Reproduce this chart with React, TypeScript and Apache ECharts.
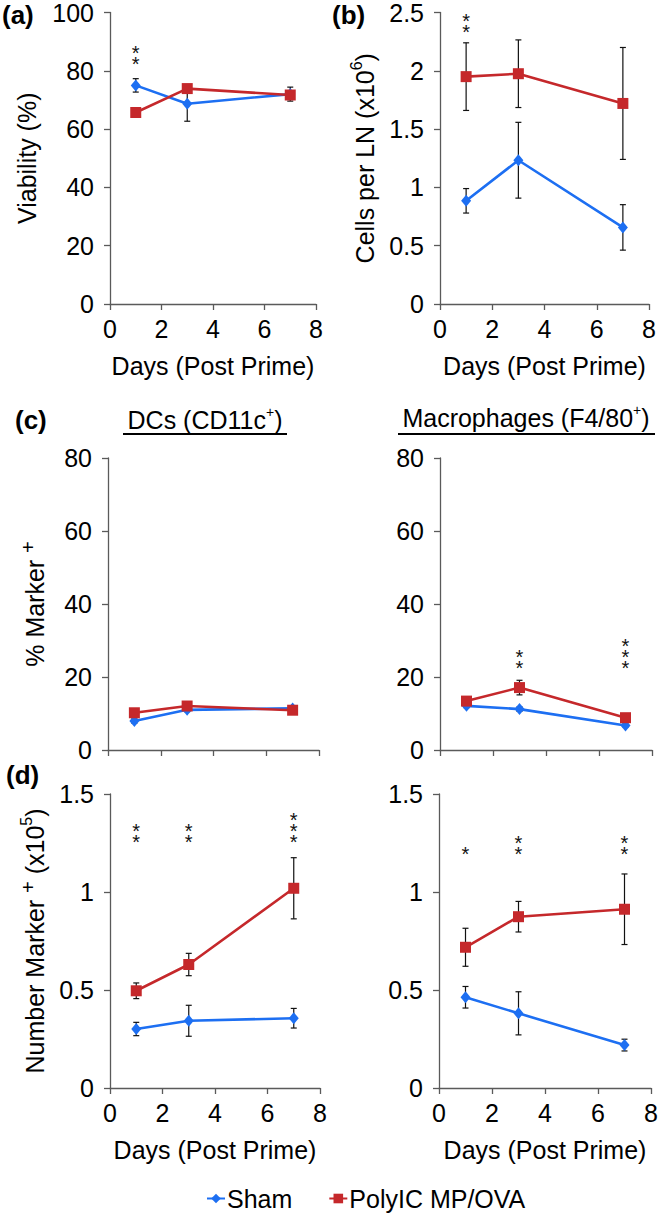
import React, { useEffect, useRef } from "react";
import * as echarts from "echarts";

const FONT = "'Liberation Sans', Arial, Helvetica, sans-serif";
const BLUE = "#1d6ff2";
const RED = "#c5282b";
const AXIS = "#5a5a5a";

// ---- Data ----
const days = [1, 3, 7];
const xTicks = [0, 2, 4, 6, 8];

const viabilitySham = [75, 68.7, 72];
const viabilityShamErr = [2.3, 6, 2.4];
const viabilityPoly = [65.7, 73.9, 71.7];
const viabilityPolyErr = [1, 1.2, 1];

const cellsSham = [0.885, 1.233, 0.657];
const cellsShamErr = [0.105, 0.325, 0.195];
const cellsPoly = [1.95, 1.975, 1.72];
const cellsPolyErr = [0.29, 0.29, 0.48];

const dcPctSham = [7.95, 11, 11.4];
const dcPctShamErr = [0.6, 0.5, 0.5];
const dcPctPoly = [10.2, 12.05, 10.9];
const dcPctPolyErr = [0.8, 0.6, 0.6];

const macPctSham = [12.1, 11.2, 6.7];
const macPctShamErr = [0.5, 0.6, 0.4];
const macPctPoly = [13.4, 17.1, 8.85];
const macPctPolyErr = [0.6, 2.0, 0.6];

const dcNumSham = [0.301, 0.343, 0.356];
const dcNumShamErr = [0.034, 0.079, 0.05];
const dcNumPoly = [0.496, 0.63, 1.019];
const dcNumPolyErr = [0.04, 0.057, 0.156];

const macNumSham = [0.463, 0.381, 0.219];
const macNumShamErr = [0.055, 0.11, 0.03];
const macNumPoly = [0.718, 0.874, 0.912];
const macNumPolyErr = [0.097, 0.078, 0.18];

// significance stars: [day, value at stack centre, number of stars]
const starsA = [[1, 85.6, 2]];
const starsB = [[1, 2.41, 2]];
const starsC1: number[][] = [];
const starsC2 = [[3, 25.1, 2], [7, 26.6, 3]];
const starsD1 = [[1, 1.306, 2], [3, 1.306, 2], [7, 1.333, 3]];
const starsD2 = [[1, 1.214, 1], [3, 1.243, 2], [7, 1.243, 2]];

const legendNames = ["Sham", "PolyIC MP/OVA"];
const xName = "Days (Post Prime)";

type Panel = {
  grid: { left: number; top: number; width: number; height: number };
  yMax: number;
  yInterval: number;
  yName?: string;
  yNameGap?: number;
  showXLabels: boolean;
  sham: number[];
  shamErr: number[];
  poly: number[];
  polyErr: number[];
  stars: number[][];
};

const panels: Panel[] = [
  {
    grid: { left: 110, top: 12, width: 206, height: 292 },
    yMax: 100, yInterval: 20,
    yName: "{n|Viability (%)}", yNameGap: 66,
    showXLabels: true,
    sham: viabilitySham, shamErr: viabilityShamErr,
    poly: viabilityPoly, polyErr: viabilityPolyErr,
    stars: starsA,
  },
  {
    grid: { left: 440, top: 12, width: 209, height: 292 },
    yMax: 2.5, yInterval: 0.5,
    yName: "{n|Cells per LN (x10}{p|6}{n|)}", yNameGap: 58,
    showXLabels: true,
    sham: cellsSham, shamErr: cellsShamErr,
    poly: cellsPoly, polyErr: cellsPolyErr,
    stars: starsB,
  },
  {
    grid: { left: 108, top: 458, width: 211, height: 292 },
    yMax: 80, yInterval: 20,
    yName: "{n|% Marker }{s|+}", yNameGap: 56,
    showXLabels: false,
    sham: dcPctSham, shamErr: dcPctShamErr,
    poly: dcPctPoly, polyErr: dcPctPolyErr,
    stars: starsC1,
  },
  {
    grid: { left: 440, top: 458, width: 212, height: 292 },
    yMax: 80, yInterval: 20,
    showXLabels: false,
    sham: macPctSham, shamErr: macPctShamErr,
    poly: macPctPoly, polyErr: macPctPolyErr,
    stars: starsC2,
  },
  {
    grid: { left: 110, top: 794, width: 210, height: 294 },
    yMax: 1.5, yInterval: 0.5,
    yName: "{n|Number Marker }{s|+}{n| (x10}{p|5}{n|)}", yNameGap: 58,
    showXLabels: true,
    sham: dcNumSham, shamErr: dcNumShamErr,
    poly: dcNumPoly, polyErr: dcNumPolyErr,
    stars: starsD1,
  },
  {
    grid: { left: 439, top: 794, width: 212, height: 294 },
    yMax: 1.5, yInterval: 0.5,
    showXLabels: true,
    sham: macNumSham, shamErr: macNumShamErr,
    poly: macNumPoly, polyErr: macNumPolyErr,
    stars: starsD2,
  },
];

const richName = {
  n: { fontSize: 25, fontFamily: FONT, color: "#000", lineHeight: 34 },
  s: { fontSize: 20, fontFamily: FONT, color: "#000", lineHeight: 18, verticalAlign: "top" },
  p: { fontSize: 16, fontFamily: FONT, color: "#000", lineHeight: 16, verticalAlign: "top" },
};

function errorBarRender(params: any, api: any) {
  const x = api.value(0);
  const y = api.value(1);
  const e = api.value(2);
  const top = api.coord([x, y + e]);
  const bot = api.coord([x, y - e]);
  const cap = 3;
  const style = { stroke: "#111", lineWidth: 1.2 };
  return {
    type: "group",
    children: [
      { type: "line", shape: { x1: top[0], y1: top[1], x2: bot[0], y2: bot[1] }, style },
      { type: "line", shape: { x1: top[0] - cap, y1: top[1], x2: top[0] + cap, y2: top[1] }, style },
      { type: "line", shape: { x1: bot[0] - cap, y1: bot[1], x2: bot[0] + cap, y2: bot[1] }, style },
    ],
  };
}

function starsRender(params: any, api: any) {
  const p = api.coord([api.value(0), api.value(1)]);
  const n = api.value(2);
  const lines: string[] = [];
  for (let i = 0; i < n; i++) lines.push("*");
  return {
    type: "text",
    style: {
      text: lines.join("\n"),
      x: p[0],
      y: p[1] + 4,
      align: "center",
      verticalAlign: "middle",
      font: `20px ${FONT}`,
      lineHeight: 11,
      fill: "#111",
    },
  };
}

function buildOption() {
  const grids: any[] = [];
  const xAxes: any[] = [];
  const yAxes: any[] = [];
  const series: any[] = [];

  panels.forEach((p, i) => {
    grids.push({ ...p.grid, containLabel: false });
    xAxes.push({
      type: "value",
      gridIndex: i,
      min: xTicks[0],
      max: xTicks[xTicks.length - 1],
      interval: 2,
      axisLine: { show: true, onZero: false, lineStyle: { color: AXIS, width: 1.3 } },
      axisTick: { show: true, length: 6, lineStyle: { color: AXIS, width: 1.3 } },
      axisLabel: { show: p.showXLabels, fontSize: 25, fontFamily: FONT, color: "#000", margin: 12 },
      splitLine: { show: false },
      name: p.showXLabels ? xName : "",
      nameLocation: "middle",
      nameGap: 49,
      nameTextStyle: { fontSize: 25, fontFamily: FONT, color: "#000" },
    });
    yAxes.push({
      type: "value",
      gridIndex: i,
      min: 0,
      max: p.yMax,
      interval: p.yInterval,
      axisLine: { show: true, onZero: false, lineStyle: { color: AXIS, width: 1.3 } },
      axisTick: { show: true, length: 6, lineStyle: { color: AXIS, width: 1.3 } },
      axisLabel: { fontSize: 25, fontFamily: FONT, color: "#000", margin: 16 },
      splitLine: { show: false },
      name: p.yName || "",
      nameLocation: "middle",
      nameRotate: 90,
      nameGap: p.yNameGap || 60,
      nameTextStyle: { fontSize: 25, fontFamily: FONT, color: "#000", rich: richName },
    });

    series.push({
      type: "custom",
      name: "err-" + i,
      xAxisIndex: i,
      yAxisIndex: i,
      z: 1,
      renderItem: errorBarRender,
      encode: { x: 0, y: 1 },
      data: [
        ...days.map((d, k) => [d, p.sham[k], p.shamErr[k]]),
        ...days.map((d, k) => [d, p.poly[k], p.polyErr[k]]),
      ],
      silent: true,
    });
    series.push({
      type: "line",
      name: legendNames[0],
      xAxisIndex: i,
      yAxisIndex: i,
      z: 3,
      data: days.map((d, k) => [d, p.sham[k]]),
      symbol: "diamond",
      symbolSize: [10, 12],
      itemStyle: { color: BLUE },
      lineStyle: { color: BLUE, width: 2.6 },
    });
    series.push({
      type: "line",
      name: legendNames[1],
      xAxisIndex: i,
      yAxisIndex: i,
      z: 4,
      data: days.map((d, k) => [d, p.poly[k]]),
      symbol: "rect",
      symbolSize: 11,
      itemStyle: { color: RED },
      lineStyle: { color: RED, width: 2.6 },
    });
    if (p.stars.length) {
      series.push({
        type: "custom",
        name: "stars-" + i,
        xAxisIndex: i,
        yAxisIndex: i,
        z: 5,
        renderItem: starsRender,
        encode: { x: 0, y: 1 },
        data: p.stars,
        silent: true,
      });
    }
  });

  const headerRich = {
    n: { fontSize: 25, fontFamily: FONT, fill: "#000", lineHeight: 30 },
    s: { fontSize: 14, fontFamily: FONT, fill: "#000", lineHeight: 14, verticalAlign: "top" },
  };

  const graphic: any[] = [
    { type: "text", left: 2, top: 2, style: { text: "(a)", font: `bold 26px ${FONT}`, fill: "#000" } },
    { type: "text", left: 332, top: 2, style: { text: "(b)", font: `bold 26px ${FONT}`, fill: "#000" } },
    { type: "text", left: 15, top: 407, style: { text: "(c)", font: `bold 26px ${FONT}`, fill: "#000" } },
    { type: "text", left: 6, top: 762, style: { text: "(d)", font: `bold 26px ${FONT}`, fill: "#000" } },
    {
      type: "text", x: 205, y: 420,
      style: { text: "{n|DCs (CD11c}{s|+}{n|)}", rich: headerRich, align: "center", verticalAlign: "middle" },
    },
    { type: "line", shape: { x1: 123, y1: 434, x2: 287, y2: 434 }, style: { stroke: "#000", lineWidth: 2 } },
    {
      type: "text", x: 526, y: 418,
      style: { text: "{n|Macrophages (F4/80}{s|+}{n|)}", rich: headerRich, align: "center", verticalAlign: "middle" },
    },
    { type: "line", shape: { x1: 398, y1: 434, x2: 655, y2: 434 }, style: { stroke: "#000", lineWidth: 2 } },
  ];

  return {
    animation: false,
    backgroundColor: "#fff",
    grid: grids,
    xAxis: xAxes,
    yAxis: yAxes,
    series,
    graphic,
    legend: {
      data: legendNames,
      left: 206,
      top: 1186,
      padding: 0,
      itemWidth: 18,
      itemHeight: 12,
      itemGap: 36,
      textStyle: { fontSize: 25, fontFamily: FONT, color: "#000", padding: [0, 0, 0, -3] },
    },
  };
}

export default function App() {
  const ref = useRef<HTMLDivElement>(null);
  useEffect(() => {
    if (!ref.current) return;
    const chart = echarts.init(ref.current, null, { renderer: "svg" });
    chart.setOption(buildOption() as any);
    return () => chart.dispose();
  }, []);
  return (
    <div
      ref={ref}
      style={{ position: "absolute", left: 0, top: 0, width: 661, height: 1214, background: "#fff" }}
    />
  );
}
